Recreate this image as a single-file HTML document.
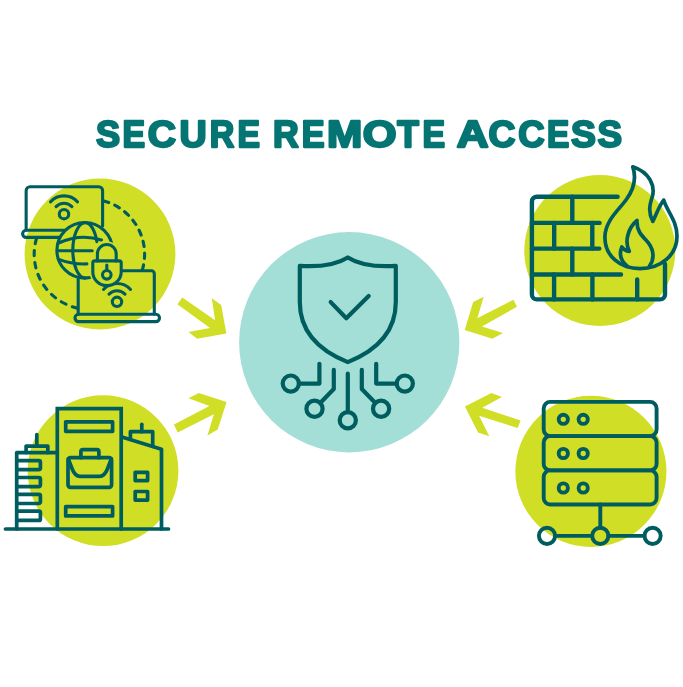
<!DOCTYPE html>
<html>
<head>
<meta charset="utf-8">
<title>Secure Remote Access</title>
<style>
  html, body { margin: 0; padding: 0; background: #ffffff; }
  body { width: 683px; height: 687px; overflow: hidden; font-family: "Liberation Sans", sans-serif; }
  svg { display: block; }
  .ic { fill: none; stroke: #005d5f; stroke-width: 2.6; stroke-linecap: round; stroke-linejoin: round; }
  .g { fill: #d1de26; }
</style>
</head>
<body>
<svg width="683" height="687" viewBox="0 0 683 687">
  <defs><filter id="noop" x="-5%" y="-20%" width="110%" height="140%"><feOffset dx="0" dy="0"/></filter></defs>
  <rect width="683" height="687" fill="#ffffff"/>

  <!-- TITLE -->
  <text id="title" filter="url(#noop)" y="147.00" font-family="Liberation Sans, sans-serif" font-weight="700" font-size="37.65" fill="#047573" stroke="#047573" stroke-width="2.3" stroke-linejoin="round"><tspan x="95.91" textLength="24.05" lengthAdjust="spacingAndGlyphs">S</tspan><tspan x="122.58" textLength="22.59" lengthAdjust="spacingAndGlyphs">E</tspan><tspan x="147.84" textLength="28.28" lengthAdjust="spacingAndGlyphs">C</tspan><tspan x="179.59" textLength="27.15" lengthAdjust="spacingAndGlyphs">U</tspan><tspan x="209.87" textLength="24.57" lengthAdjust="spacingAndGlyphs">R</tspan><tspan x="237.40" textLength="22.47" lengthAdjust="spacingAndGlyphs">E</tspan> <tspan x="273.07" textLength="25.71" lengthAdjust="spacingAndGlyphs">R</tspan><tspan x="301.76" textLength="22.83" lengthAdjust="spacingAndGlyphs">E</tspan><tspan x="327.12" textLength="35.26" lengthAdjust="spacingAndGlyphs">M</tspan><tspan x="362.67" textLength="33.81" lengthAdjust="spacingAndGlyphs">O</tspan><tspan x="397.35" textLength="21.58" lengthAdjust="spacingAndGlyphs">T</tspan><tspan x="422.58" textLength="22.59" lengthAdjust="spacingAndGlyphs">E</tspan> <tspan x="456.76" textLength="31.75" lengthAdjust="spacingAndGlyphs">A</tspan><tspan x="488.52" textLength="26.95" lengthAdjust="spacingAndGlyphs">C</tspan><tspan x="518.15" textLength="26.40" lengthAdjust="spacingAndGlyphs">C</tspan><tspan x="547.12" textLength="22.23" lengthAdjust="spacingAndGlyphs">E</tspan><tspan x="571.08" textLength="24.83" lengthAdjust="spacingAndGlyphs">S</tspan><tspan x="597.39" textLength="24.49" lengthAdjust="spacingAndGlyphs">S</tspan></text>

  <!-- CIRCLES -->
  <circle class="g" cx="100" cy="254" r="75.4"/>
  <circle class="g" cx="103" cy="470.7" r="75.4"/>
  <circle class="g" cx="599.8" cy="250.5" r="75.5"/>
  <circle class="g" cx="590.9" cy="471.4" r="75.55"/>
  <circle cx="349.25" cy="342.25" r="110.15" fill="#a3dfd7"/>

  <!-- ARROWS -->
  <g id="arrows" fill="#d1de26" stroke="none">
    <polygon points="182.3,297.4 215.1,320.2 211.8,298.2 221.2,304.9 226.4,333.6 197.2,338.7 188.4,332 210,327.9 177.4,304.3"/>
    <polygon points="173.9,424.5 209.5,406 188.4,398.3 198.7,393 226.6,401.9 217.7,429.6 207.4,435.4 213.9,414.2 177.7,432.4"/>
    <polygon points="464.7,329.9 473.2,301.9 483.7,296.8 477.3,318.3 513.4,299.7 517,306.7 481.9,326.5 503,333 492.4,338.8"/>
    <polygon points="464.9,406.5 491.4,393 501.9,397.1 482.2,407.8 520.6,420.4 517.7,428 479.1,415.7 489.3,436.2 478.1,432.4"/>
  </g>

  <!-- ICON: laptops -->
  <g id="laptops" class="ic" style="stroke-width:3.1">
    <!-- dashed orbit -->
    <path d="M102.60 200.65 A55.2 55.2 0 0 1 142.09 270.70" style="stroke-dasharray:5.30 6.50;stroke-dashoffset:-1.20"/>
    <path d="M36.83 237.40 A55.2 55.2 0 0 0 78.20 308.30" style="stroke-dasharray:5.30 6.85;stroke-dashoffset:-1.20"/>
    <!-- laptop 1 -->
    <path d="M26.15 230 V190.75 a4 4 0 0 1 4 -4 H98.6 a4 4 0 0 1 4 4 V226"/>
    <path d="M66 230.2 H26.2 a3.6 3.6 0 0 0 0 7.2 H61"/>
    <!-- wifi 1 -->
    <circle cx="64" cy="214.2" r="4.7"/>
    <path d="M56.1 206.55 A11 11 0 0 1 71.9 206.55"/>
    <path d="M50.5 201.85 A18.3 18.3 0 0 1 77.5 201.85"/>
    <!-- globe -->
    <circle cx="84.7" cy="250.3" r="27.8" fill="#d1de26"/>
    <path d="M85.1 222.7 A12.3 27.6 0 0 0 85.1 277.9 M85.1 222.7 A12.3 27.6 0 0 1 96.8 241.6"/>
    <path d="M58.6 243 Q80 233.3 101.5 239.9 M57.3 250.8 H92.2 M58.8 259.4 Q72 264.5 86.9 263.9"/>
    <!-- lock halo -->
    <g style="stroke:#d1de26;stroke-width:6.4;fill:#d1de26">
      <path d="M94.8 260.9 H119.2 a2 2 0 0 1 2 2 V272 a14.2 13.6 0 0 1 -28.4 0 V262.9 a2 2 0 0 1 2 -2 Z"/>
      <path d="M97.4 260.9 V253.9 a9.4 9.4 0 0 1 18.8 0 V260.9 Z"/>
    </g>
    <!-- laptop 2 -->
    <path d="M78.2 314 V277.3 M120 270.7 H151.3 a3 3 0 0 1 3 3 V314"/>
    <rect x="75" y="314.3" width="84.5" height="7.3" rx="3.65"/>
    <!-- wifi 2 -->
    <circle cx="117" cy="301.8" r="4.7"/>
    <path d="M109 294.1 A11.1 11.1 0 0 1 125 294.1"/>
    <path d="M103.5 289.45 A18.3 18.3 0 0 1 130.5 289.45"/>
    <!-- lock -->
    <path d="M94.8 260.9 H119.2 a2 2 0 0 1 2 2 V272 a14.2 13.6 0 0 1 -28.4 0 V262.9 a2 2 0 0 1 2 -2 Z" fill="#d1de26"/>
    <path d="M97.4 260.9 V253.9 a9.4 9.4 0 0 1 18.8 0 V260.9"/>
    <circle cx="106.8" cy="274.8" r="4.3"/>
    <path d="M106.8 270.5 V265"/>
  </g>

  <!-- ICON: buildings -->
  <g id="buildings" class="ic" style="stroke-width:3.7;stroke-linejoin:miter">
    <!-- ground -->
    <path d="M5.5 529 H168.5"/>
    <!-- central tower -->
    <path d="M57.3 529 V408.7 H121.2 V529"/>
    <rect x="65.7" y="421.8" width="46.9" height="9.5" style="stroke-linejoin:round"/>
    <rect x="65.7" y="506.6" width="46.9" height="9.3" style="stroke-linejoin:round"/>
    <!-- briefcase -->
    <g style="stroke-linejoin:round">
      <rect x="68" y="457.7" width="43.6" height="29.6" rx="2.5"/>
      <path d="M80.9 457.7 V451.7 a2 2 0 0 1 2 -2 H96.9 a2 2 0 0 1 2 2 V457.7"/>
      <path d="M68.3 458.8 L72.2 469 Q75 476.3 80 476.3 H99.6 Q104.6 476.3 107.4 469 L111.3 458.8"/>
    </g>
    <!-- left tower -->
    <path d="M16.7 529 V452.6 H57.3" style="stroke-linejoin:round"/>
    <path d="M26.1 452.6 V446.1 H47.8 V452.6" style="stroke-linejoin:round"/>
    <path d="M36.8 446.1 V434.5"/>
    <g style="stroke-linejoin:round">
      <path d="M16.7 460.7 H38.9 a1.5 1.5 0 0 1 1.5 1.5 V468.2 a1.5 1.5 0 0 1 -1.5 1.5 H16.7"/>
      <path d="M16.7 477.5 H38.9 a1.5 1.5 0 0 1 1.5 1.5 V485.1 a1.5 1.5 0 0 1 -1.5 1.5 H16.7"/>
      <path d="M16.7 494.3 H38.9 a1.5 1.5 0 0 1 1.5 1.5 V502.0 a1.5 1.5 0 0 1 -1.5 1.5 H16.7"/>
      <path d="M16.7 511.1 H38.9 a1.5 1.5 0 0 1 1.5 1.5 V518.9 a1.5 1.5 0 0 1 -1.5 1.5 H16.7"/>
    </g>
    <!-- right tower -->
    <path d="M121.9 437 L161.5 449.2 V529" style="stroke-linejoin:round"/>
    <path d="M130.4 439.3 V431.7 H152.7 V446.3" style="stroke-linejoin:round"/>
    <path d="M141.8 431.7 V424.3"/>
    <rect x="135.2" y="472.3" width="12.4" height="8.3" style="stroke-linejoin:round"/>
    <rect x="135.2" y="491.5" width="12.4" height="8.6" style="stroke-linejoin:round"/>
  </g>

  <!-- ICON: firewall -->
  <g id="firewall" class="ic" style="stroke-width:4.4">
    <!-- wall outline -->
    <path d="M617.6 196.7 H536.9 a5 5 0 0 0 -5 5 V294.4 a5 5 0 0 0 5 5 H660 a5 5 0 0 0 5 -5 V264"/>
    <!-- courses -->
    <path d="M531.9 222.9 H599.6 M531.9 248.6 H599.3 M531.9 274.5 H621"/>
    <!-- joints -->
    <path d="M572.3 196.7 V222.9 M554.2 222.9 V248.6 M592.3 222.9 V248.6 M572.3 248.6 V274.5 M554.1 274.5 V299.4 M592.4 274.5 V299.4 M637.2 279.5 V299.4"/>
    <!-- flame outer -->
    <path style="stroke-width:3.7" d="M632.8 166.8 C636.5 178 633.5 190 626 200 C619 209.5 605 221 604.9 237 C604.8 256 620 268.7 640 268.7 C661 268.7 677 255 677 236 C677 221 667.5 212 663.7 200.1 C659.5 205 657 213 652.8 221.4 C648 212 649.5 205 652.5 196 C655 186 650 172.5 632.8 166.8 Z"/>
    <!-- flame inner -->
    <path style="stroke-width:3.7" d="M627.5 266.5 C621.5 261.5 618.5 255 621.8 246.9 C623.5 249.5 626.5 251 629.3 251.3 C624 241 628.5 227.5 637 220.5 C636.5 230 641 235 646.4 240.5 C652.5 247 656 257 649.5 266"/>
  </g>

  <!-- ICON: server -->
  <g id="server" class="ic" style="stroke-width:3.9">
    <rect x="543.7" y="401.9" width="112.9" height="34.2" rx="6.5"/>
    <rect x="543.7" y="436.1" width="112.9" height="34.3" rx="6.5"/>
    <rect x="543.7" y="470.4" width="112.9" height="34.1" rx="6.5"/>
    <circle cx="563.3" cy="419.3" r="4.6"/><circle cx="583.2" cy="419.3" r="4.6"/>
    <circle cx="563.3" cy="453.5" r="4.6"/><circle cx="583.2" cy="453.5" r="4.6"/>
    <circle cx="563.3" cy="488" r="4.6"/><circle cx="583.2" cy="488" r="4.6"/>
    <path d="M600.3 504.5 V527.7 M555.1 535.85 H592.2 M608.4 535.85 H644.5"/>
    <circle cx="547" cy="535.85" r="8.1"/><circle cx="600.3" cy="535.85" r="8.1"/><circle cx="652.6" cy="535.85" r="8.1"/>
  </g>

  <!-- ICON: shield -->
  <g id="shield" class="ic" style="stroke-width:4.2">
    <path d="M299.8 265.9 Q331.5 267.8 347.8 257.4 Q364.1 267.8 395.8 265.9 V302 C395.8 334 374.3 351.5 347.8 362.1 C321.3 351.5 299.8 334 299.8 302 Z"/>
    <path d="M330.7 302.1 L346.3 318.3 L368.7 296"/>
    <path d="M319.4 363.8 V383.6 H298.9 M333.8 369.9 V389 L320.2 403 M347.8 373.7 V412.1 M361.8 369.9 V389 L375.4 403 M376.2 363.8 V383.6 H396.7"/>
    <circle cx="290.8" cy="383.6" r="8.1"/><circle cx="314.5" cy="408.8" r="8.1"/><circle cx="347.8" cy="420.2" r="8.1"/><circle cx="381.1" cy="408.8" r="8.1"/><circle cx="404.8" cy="383.6" r="8.1"/>
  </g>
</svg>
</body>
</html>
